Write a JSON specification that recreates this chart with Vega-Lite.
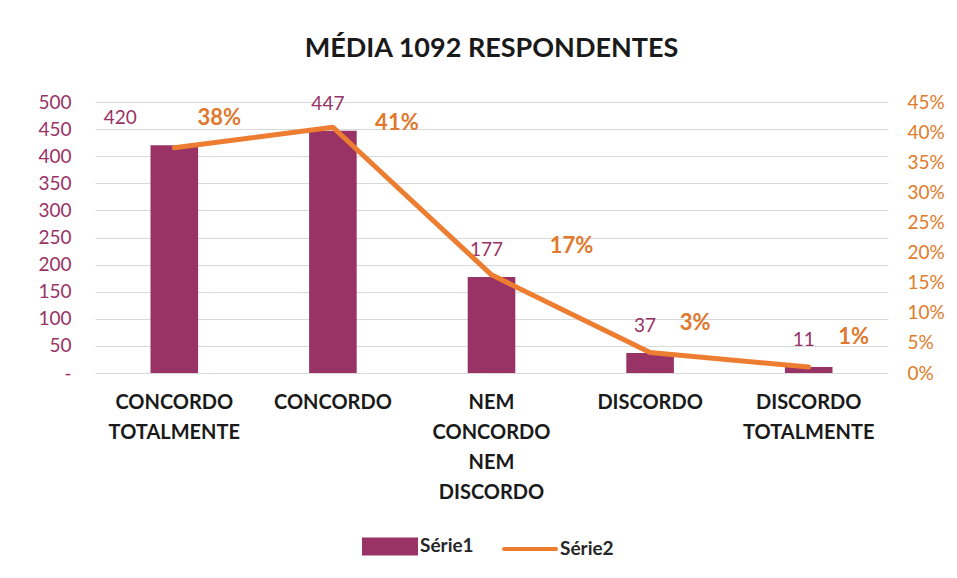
{
  "$schema": "https://vega.github.io/schema/vega-lite/v6.json",
  "width": 793,
  "height": 271,
  "autosize": {"type": "none"},
  "padding": {"left": 95, "top": 102, "right": 69, "bottom": 205},
  "background": "white",
  "config": {
    "font": "Lato",
    "view": {"stroke": null}
  },
  "title": {
    "text": "MÉDIA 1092 RESPONDENTES",
    "font": "Lato",
    "fontSize": 27,
    "fontWeight": "bold",
    "color": "#1a1a1a",
    "anchor": "middle",
    "offset": 30
  },
  "data": {
    "values": [
      {"cat": "CONCORDO|TOTALMENTE", "n": 420, "pct": 0.374, "pctLabel": "38%"},
      {"cat": "CONCORDO", "n": 447, "pct": 0.408, "pctLabel": "41%"},
      {"cat": "NEM|CONCORDO|NEM|DISCORDO", "n": 177, "pct": 0.163, "pctLabel": "17%"},
      {"cat": "DISCORDO", "n": 37, "pct": 0.034, "pctLabel": "3%"},
      {"cat": "DISCORDO|TOTALMENTE", "n": 11, "pct": 0.01, "pctLabel": "1%"}
    ]
  },
  "encoding": {
    "x": {
      "field": "cat",
      "type": "nominal",
      "sort": null,
      "scale": {"paddingInner": 0.7, "paddingOuter": 0.35},
      "axis": {
        "title": null,
        "labelExpr": "split(datum.label, '|')",
        "labelAngle": 0,
        "labelFont": "Lato",
        "labelFontSize": 20,
        "labelFontWeight": "bold",
        "labelColor": "#1a1a1a",
        "labelLineHeight": 30,
        "labelPadding": 19,
        "labelBaseline": "top",
        "ticks": false,
        "domain": false,
        "grid": false
      }
    }
  },
  "layer": [
    {
      "encoding": {
        "y": {
          "field": "n",
          "type": "quantitative",
          "scale": {"domain": [0, 500], "nice": false},
          "axis": {
            "title": null,
            "values": [0, 50, 100, 150, 200, 250, 300, 350, 400, 450, 500],
            "labelExpr": "datum.value == 0 ? '-' : datum.label",
            "labelFont": "Lato",
            "labelFontSize": 19,
            "labelColor": "#993366",
            "labelPadding": 24,
            "ticks": false,
            "domain": false,
            "grid": true,
            "gridColor": "#d9d9d9",
            "gridWidth": 1
          }
        }
      },
      "layer": [
        {
          "mark": {"type": "bar"},
          "encoding": {
            "color": {
              "datum": "Série1",
              "type": "nominal",
              "scale": {"domain": ["Série1", "Série2"], "range": ["#993366", "#ED7D31"]},
              "legend": {
                "title": null,
                "orient": "none",
                "direction": "horizontal",
                "legendX": 267,
                "legendY": 416,
                "symbolSize": 2704,
                "labelFont": "Lato",
                "labelFontSize": 19,
                "labelFontWeight": "bold",
                "labelColor": "#262626",
                "labelOffset": 2,
                "columnPadding": 22,
                "encode": {
                  "symbols": {
                    "update": {
                      "shape": {"signal": "datum.value === 'Série1' ? 'M-1,-0.27H1V0.27H-1Z' : 'M-1,0H1'"},
                      "fill": {"signal": "datum.value === 'Série1' ? '#993366' : 'transparent'"},
                      "stroke": {"signal": "datum.value === 'Série1' ? 'transparent' : '#ED7D31'"},
                      "strokeWidth": {"value": 4},
                      "strokeCap": {"value": "round"},
                      "fillOpacity": {"value": 1},
                      "opacity": {"value": 1}
                    }
                  }
                }
              }
            }
          }
        },
        {
          "transform": [{"filter": "datum.n == 420"}],
          "mark": {"type": "text", "font": "Lato", "fontSize": 19, "color": "#993366", "dx": -54, "dy": -27},
          "encoding": {"text": {"field": "n", "type": "quantitative"}}
        },
        {
          "transform": [{"filter": "datum.n != 420"}],
          "mark": {"type": "text", "font": "Lato", "fontSize": 19, "color": "#993366", "dx": -5, "dy": -27},
          "encoding": {"text": {"field": "n", "type": "quantitative"}}
        }
      ]
    },
    {
      "encoding": {
        "y": {
          "field": "pct",
          "type": "quantitative",
          "scale": {"domain": [0, 0.45], "nice": false},
          "axis": {
            "title": null,
            "orient": "right",
            "format": ".0%",
            "values": [0, 0.05, 0.1, 0.15, 0.2, 0.25, 0.3, 0.35, 0.4, 0.45],
            "labelFont": "Lato",
            "labelFontSize": 19,
            "labelColor": "#E07B2A",
            "labelPadding": 19,
            "ticks": false,
            "domain": false,
            "grid": false
          }
        }
      },
      "layer": [
        {
          "mark": {"type": "line", "strokeWidth": 5, "strokeCap": "round", "strokeJoin": "round"},
          "encoding": {"color": {"datum": "Série2", "type": "nominal"}}
        },
        {
          "transform": [{"filter": "datum.pctLabel != '41%' && datum.pctLabel != '17%'"}],
          "mark": {"type": "text", "font": "Lato", "fontSize": 22, "fontWeight": "bold", "color": "#E0782D", "dx": 45, "dy": -30},
          "encoding": {"text": {"field": "pctLabel", "type": "nominal"}}
        },
        {
          "transform": [{"filter": "datum.pctLabel == '41%'"}],
          "mark": {"type": "text", "font": "Lato", "fontSize": 22, "fontWeight": "bold", "color": "#E0782D", "dx": 64, "dy": -4},
          "encoding": {"text": {"field": "pctLabel", "type": "nominal"}}
        },
        {
          "transform": [{"filter": "datum.pctLabel == '17%'"}],
          "mark": {"type": "text", "font": "Lato", "fontSize": 22, "fontWeight": "bold", "color": "#E0782D", "dx": 80, "dy": -29},
          "encoding": {"text": {"field": "pctLabel", "type": "nominal"}}
        }
      ]
    }
  ],
  "resolve": {"scale": {"y": "independent"}}
}
